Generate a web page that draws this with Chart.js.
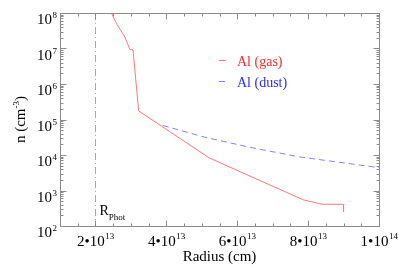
<!DOCTYPE html>
<html>
<head>
<meta charset="utf-8">
<script src="https://cdn.jsdelivr.net/npm/chart.js@4.4.1/dist/chart.umd.min.js"></script>
<style>
  body { margin: 0; background: #fff; }
  #wrap { width: 399px; height: 266px; }
</style>
</head>
<body>
<div id="wrap"><canvas id="myChart" width="399" height="266"></canvas></div>
<script>
// radius (cm) and density (cm^-3)
var gasR = [2.45e13, 2.59e13, 2.83e13, 2.97e13, 3.06e13, 3.22e13, 5.21e13, 6.5e13, 7.88e13, 8.4e13, 9.0e13, 9.0e13];
var gasN = [1e8, 5.1e7, 2.1e7, 9.5e6, 9.1e6, 1.74e5, 8.3e3, 2.2e3, 540, 410, 410, 250];
var dustR = [3.9e13, 5.07e13, 6.34e13, 7.74e13, 1e14];
var dustN = [6.8e4, 3.2e4, 1.66e4, 8.9e3, 4.4e3];
var xTicks = [2e13, 4e13, 6e13, 8e13, 1e14];
var xTickLabels = [["2", "13"], ["4", "13"], ["6", "13"], ["8", "13"], ["1", "14"]];
var yTicks = [1e2, 1e3, 1e4, 1e5, 1e6, 1e7, 1e8];
var yTickLabels = ["2", "3", "4", "5", "6", "7", "8"];
var rPhot = 2e13;
var seriesNames = ["Al (gas)", "Al (dust)"];

function pts(xs, ys) {
  return xs.map(function (x, i) { return { x: x, y: ys[i] }; });
}

var SERIF = "'Liberation Serif', 'DejaVu Serif', serif";
var AXIS = "#8c8c8c";

var decor = {
  id: "decor",
  beforeDatasetsDraw: function (chart) {
    var c = chart.ctx, a = chart.chartArea, xs = chart.scales.x;
    var px = Math.round(xs.getPixelForValue(rPhot)) + 0.5;
    c.save();
    c.strokeStyle = "#a8a8a8";
    c.lineWidth = 1;
    c.setLineDash([7, 3, 1, 3]);
    c.beginPath();
    c.moveTo(px, a.top);
    c.lineTo(px, a.bottom);
    c.stroke();
    c.restore();
  },
  afterDraw: function (chart) {
    var c = chart.ctx, a = chart.chartArea;
    var xs = chart.scales.x, ys = chart.scales.y;
    c.save();
    c.strokeStyle = AXIS;
    c.lineWidth = 1;
    var L = Math.round(a.left) + 0.5, R = Math.round(a.right) + 0.5;
    var T = Math.round(a.top) + 0.5, B = Math.round(a.bottom) + 0.5;
    c.strokeRect(L, T, R - L, B - T);

    // x ticks (every 0.5e13, major every 2e13)
    c.beginPath();
    for (var k = 2; k <= 20; k++) {
      var v = k * 0.5e13;
      var p = Math.round(xs.getPixelForValue(v)) + 0.5;
      var len = (k % 4 === 0) ? 6 : 3;
      c.moveTo(p, B); c.lineTo(p, B - len);
      c.moveTo(p, T); c.lineTo(p, T + len);
    }
    // y ticks (log)
    for (var d = 2; d < 8; d++) {
      for (var m = 1; m <= 9; m++) {
        var yv = m * Math.pow(10, d);
        var yp = Math.round(ys.getPixelForValue(yv)) + 0.5;
        var ylen = (m === 1) ? 6 : 3;
        c.moveTo(L, yp); c.lineTo(L + ylen, yp);
        c.moveTo(R, yp); c.lineTo(R - ylen, yp);
      }
    }
    c.stroke();

    // x tick labels
    c.fillStyle = "#000";
    c.textBaseline = "alphabetic";
    xTicks.forEach(function (v, i) {
      var p = xs.getPixelForValue(v);
      var main = xTickLabels[i][0] + "\u202210";
      var sup = xTickLabels[i][1];
      c.font = "15px " + SERIF;
      var w1 = c.measureText(main).width;
      c.font = "9px " + SERIF;
      var w2 = c.measureText(sup).width;
      var x0 = p - (w1 + w2) / 2;
      c.font = "15px " + SERIF;
      c.textAlign = "left";
      c.fillText(main, x0, 246);
      c.font = "9px " + SERIF;
      c.fillText(sup, x0 + w1 + 0.5, 239);
    });

    // y tick labels
    yTicks.forEach(function (v, i) {
      var p = ys.getPixelForValue(v);
      c.font = "9px " + SERIF;
      var w2 = c.measureText(yTickLabels[i]).width;
      c.textAlign = "right";
      c.fillText(yTickLabels[i], 57, p + 5);
      c.font = "15px " + SERIF;
      c.fillText("10", 57 - w2 - 0.5, p + 11);
    });

    // axis titles
    c.font = "15px " + SERIF;
    c.textAlign = "center";
    c.fillText("Radius (cm)", (a.left + a.right) / 2, 261);
    c.save();
    c.translate(25, (a.top + a.bottom) / 2);
    c.rotate(-Math.PI / 2);
    c.font = "15px " + SERIF;
    var t1 = "n (cm", t3 = ")";
    var sw1 = c.measureText(t1).width;
    c.font = "9px " + SERIF;
    var sw2 = c.measureText("-3").width;
    c.font = "15px " + SERIF;
    var sw3 = c.measureText(t3).width;
    var sx = -(sw1 + sw2 + sw3) / 2;
    c.textAlign = "left";
    c.fillText(t1, sx, 0);
    c.font = "9px " + SERIF;
    c.fillText("-3", sx + sw1, -6);
    c.font = "15px " + SERIF;
    c.fillText(t3, sx + sw1 + sw2, 0);
    c.restore();

    // R_Phot label
    var rx = xs.getPixelForValue(rPhot) + 4;
    c.textAlign = "left";
    c.font = "14px " + SERIF;
    c.fillText("R", rx, 215);
    var rw = c.measureText("R").width;
    c.font = "9px " + SERIF;
    c.fillText("Phot", rx + rw, 220);

    // legend
    var lg = [
      { y: 60.5, col: "rgb(255,120,120)", txt: "#ff2a2a", dash: [] },
      { y: 81.5, col: "rgb(130,130,255)", txt: "#2a2aff", dash: [6, 4] }
    ];
    lg.forEach(function (e, i) {
      c.strokeStyle = e.col;
      c.setLineDash(e.dash);
      c.beginPath();
      c.moveTo(219, e.y); c.lineTo(226, e.y);
      c.stroke();
      c.setLineDash([]);
      c.fillStyle = e.txt;
      c.font = "14px " + SERIF;
      c.textAlign = "left";
      c.fillText(seriesNames[i], 237, e.y + 5);
    });
    c.restore();
  }
};

var ctx = document.getElementById("myChart").getContext("2d");
var myChart = new Chart(ctx, {
  type: "line",
  data: {
    datasets: [
      {
        label: seriesNames[0],
        data: pts(gasR, gasN),
        borderColor: "rgb(255,120,120)",
        borderWidth: 1,
        pointRadius: 0,
        tension: 0,
        fill: false
      },
      {
        label: seriesNames[1],
        data: pts(dustR, dustN),
        borderColor: "rgb(130,130,255)",
        borderWidth: 1,
        borderDash: [6, 4],
        pointRadius: 0,
        tension: 0,
        fill: false
      }
    ]
  },
  options: {
    responsive: false,
    animation: false,
    layout: { padding: { left: 60, right: 20, top: 13, bottom: 40 } },
    plugins: { legend: { display: false }, tooltip: { enabled: false } },
    scales: {
      x: { type: "linear", min: 1e13, max: 1e14, display: false },
      y: { type: "logarithmic", min: 1e2, max: 1e8, display: false }
    }
  },
  plugins: [decor]
});
</script>
</body>
</html>
